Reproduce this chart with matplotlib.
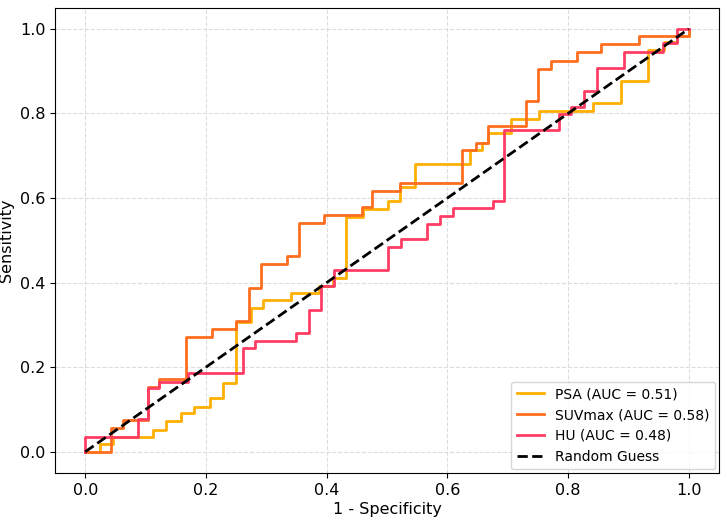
import matplotlib
matplotlib.use("Agg")
import matplotlib.pyplot as plt

# ROC corner points
psa_fpr = [0, 0.024, 0.024, 0.046, 0.046, 0.112, 0.112, 0.134, 0.134, 0.159, 0.159, 0.181, 0.181,
           0.206, 0.206, 0.228, 0.228, 0.25, 0.25, 0.275, 0.275, 0.295, 0.295, 0.341, 0.341, 0.388,
           0.388, 0.41, 0.41, 0.432, 0.432, 0.46, 0.46, 0.501, 0.501, 0.522, 0.522, 0.546, 0.546,
           0.638, 0.638, 0.658, 0.658, 0.668, 0.668, 0.705, 0.705, 0.752, 0.752, 0.842, 0.842,
           0.887, 0.887, 0.933, 0.933, 0.959, 0.959, 0.981, 0.981, 1.0, 1.0]
psa_tpr = [0, 0, 0.018, 0.018, 0.034, 0.034, 0.052, 0.052, 0.072, 0.072, 0.091, 0.091, 0.107,
           0.107, 0.127, 0.127, 0.162, 0.162, 0.308, 0.308, 0.340, 0.340, 0.359, 0.359, 0.375, 0.375,
           0.392, 0.392, 0.411, 0.411, 0.555, 0.555, 0.574, 0.574, 0.592, 0.592, 0.627, 0.627, 0.681,
           0.681, 0.714, 0.714, 0.731, 0.731, 0.753, 0.753, 0.788, 0.788, 0.807, 0.807, 0.824,
           0.824, 0.877, 0.877, 0.949, 0.949, 0.968, 0.968, 0.983, 0.983, 1.0]

suv_fpr = [0, 0.043, 0.043, 0.062, 0.062, 0.104, 0.104, 0.123, 0.123, 0.167, 0.167, 0.210, 0.210,
           0.250, 0.250, 0.272, 0.272, 0.291, 0.291, 0.334, 0.334, 0.355, 0.355, 0.396, 0.396,
           0.458, 0.458, 0.475, 0.475, 0.522, 0.522, 0.625, 0.625, 0.647, 0.647, 0.667, 0.667,
           0.730, 0.730, 0.751, 0.751, 0.772, 0.772, 0.815, 0.815, 0.855, 0.855, 0.918, 0.918, 1.0, 1.0]
suv_tpr = [0, 0, 0.056, 0.056, 0.074, 0.074, 0.154, 0.154, 0.172, 0.172, 0.271, 0.271, 0.290,
           0.290, 0.310, 0.310, 0.387, 0.387, 0.444, 0.444, 0.463, 0.463, 0.541, 0.541, 0.560,
           0.560, 0.580, 0.580, 0.616, 0.616, 0.636, 0.636, 0.714, 0.714, 0.731, 0.731, 0.771,
           0.771, 0.830, 0.830, 0.905, 0.905, 0.925, 0.925, 0.945, 0.945, 0.965, 0.965, 0.983, 0.983, 1.0]

hu_fpr = [0, 0, 0.087, 0.087, 0.104, 0.104, 0.123, 0.123, 0.170, 0.170, 0.261, 0.261, 0.281,
          0.281, 0.349, 0.349, 0.371, 0.371, 0.391, 0.391, 0.413, 0.413, 0.501, 0.501, 0.523,
          0.523, 0.566, 0.566, 0.588, 0.588, 0.609, 0.609, 0.675, 0.675, 0.694, 0.694, 0.785,
          0.785, 0.805, 0.805, 0.827, 0.827, 0.848, 0.848, 0.893, 0.893, 0.958, 0.958, 0.981, 0.981, 1.0]
hu_tpr = [0, 0.036, 0.036, 0.078, 0.078, 0.152, 0.152, 0.166, 0.166, 0.186, 0.186, 0.245, 0.245,
          0.261, 0.261, 0.281, 0.281, 0.336, 0.336, 0.391, 0.391, 0.429, 0.429, 0.484, 0.484,
          0.503, 0.503, 0.539, 0.539, 0.558, 0.558, 0.576, 0.576, 0.594, 0.594, 0.761, 0.761,
          0.799, 0.799, 0.816, 0.816, 0.854, 0.854, 0.907, 0.907, 0.946, 0.946, 0.966, 0.966, 1.0, 1.0]

labels = ["PSA (AUC = 0.51)", "SUVmax (AUC = 0.58)", "HU (AUC = 0.48)"]
colors = ["#FFB000", "#FF6E1F", "#FF3D64"]

fig = plt.figure(figsize=(7.24, 5.18), dpi=100)
ax = fig.add_axes([0.076, 0.087, 0.917, 0.898])

ax.plot(psa_fpr, psa_tpr, color=colors[0], lw=2, label=labels[0])
ax.plot(suv_fpr, suv_tpr, color=colors[1], lw=2, label=labels[1])
ax.plot(hu_fpr, hu_tpr, color=colors[2], lw=2, label=labels[2])
ax.plot([0, 1], [0, 1], color="black", lw=2, linestyle="--", label="Random Guess")

ax.set_xlabel("1 - Specificity", fontsize=11.5, labelpad=3)
ax.set_ylabel("Sensitivity", fontsize=11.5)
ax.tick_params(labelsize=11.5)
ax.grid(True, linestyle="--", color="#dddddd", lw=0.8)
ax.legend(loc="lower right", fontsize=10, borderaxespad=0.25)

fig.savefig("out.png", dpi=100)
